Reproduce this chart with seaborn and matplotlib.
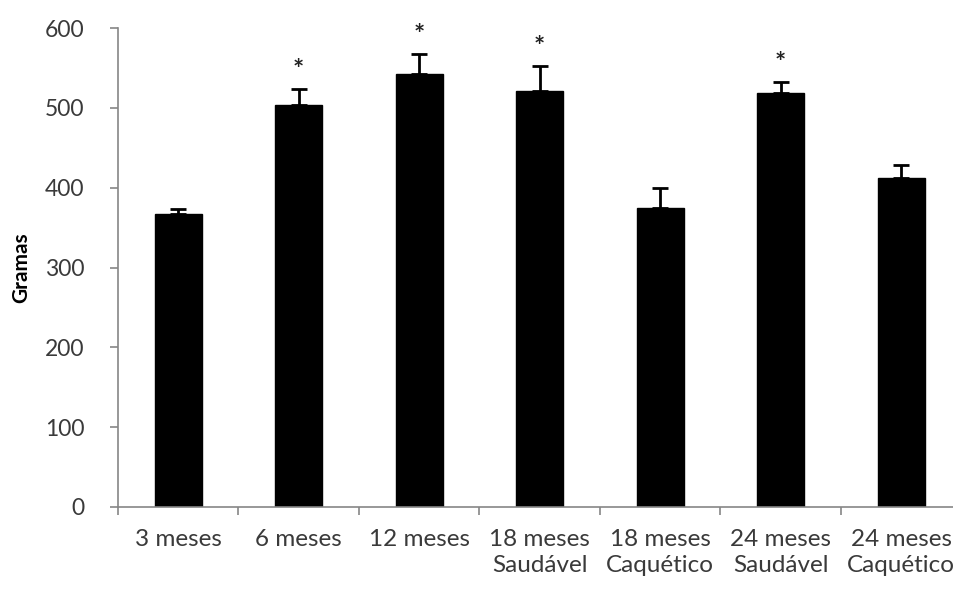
import numpy as np
import pandas as pd
import matplotlib
matplotlib.use("Agg")
import matplotlib.pyplot as plt
import seaborn as sns

# Body weight per group (grams), mean and SEM
grupos = ["3 meses", "6 meses", "12 meses", "18 meses\nSaudável", "18 meses\nCaquético",
          "24 meses\nSaudável", "24 meses\nCaquético"]
media = [367, 503, 543, 521, 375, 518, 412]
erro = [6, 21, 24, 31, 24, 14, 17]
significativo = [False, True, True, True, False, True, False]
yticks = [0, 100, 200, 300, 400, 500, 600]

sns.set_theme(style="white")
plt.rcParams["font.family"] = ["Lato", "DejaVu Sans"]

df = pd.DataFrame({"grupo": grupos, "gramas": media})

fig = plt.figure(figsize=(9.54, 5.9), dpi=100)
ax = fig.add_axes([0.1237, 0.1407, 0.884, 0.8118])

sns.barplot(data=df, x="grupo", y="gramas", color="black", width=0.39,
            saturation=1, errorbar=None, ax=ax, edgecolor="black")

x = np.arange(len(grupos))
ax.errorbar(x, media, yerr=[np.zeros(len(erro)), erro], fmt="none",
            ecolor="black", elinewidth=2, capsize=5.8, capthick=2, zorder=3)

for xi, m, e, s in zip(x, media, erro, significativo):
    if s:
        ax.annotate("*", (xi, m + e), xytext=(0, 5), textcoords="offset points",
                    ha="center", va="bottom", fontsize=19, fontweight="bold",
                    color="#222222")

ax.set_ylim(0, 600)
ax.set_xlim(-0.5, len(grupos) - 0.5)
ax.set_yticks(yticks)
ax.set_yticklabels([str(v) for v in yticks])

ax.set_xlabel("")
ax.set_ylabel("Gramas", fontsize=15, fontweight="bold", color="black", labelpad=10)

for side in ["top", "right"]:
    ax.spines[side].set_visible(False)
for side in ["left", "bottom"]:
    ax.spines[side].set_color("#868686")
    ax.spines[side].set_linewidth(1.2)

ax.tick_params(axis="y", which="major", left=True, length=6, width=1.2,
               color="#868686", labelsize=16.5, labelcolor="#3a3a3a", pad=18)
ax.tick_params(axis="x", which="major", bottom=False, length=0,
               labelsize=17.5, labelcolor="#3a3a3a", pad=16)
ax.set_xticks(np.arange(-0.5, len(grupos), 1.0), minor=True)
ax.tick_params(axis="x", which="minor", bottom=True, length=6, width=1.2,
               color="#868686")
for lbl in ax.get_xticklabels():
    lbl.set_linespacing(1.3)
    lbl.set_va("top")

fig.savefig("out.png", dpi=100, facecolor="white")
